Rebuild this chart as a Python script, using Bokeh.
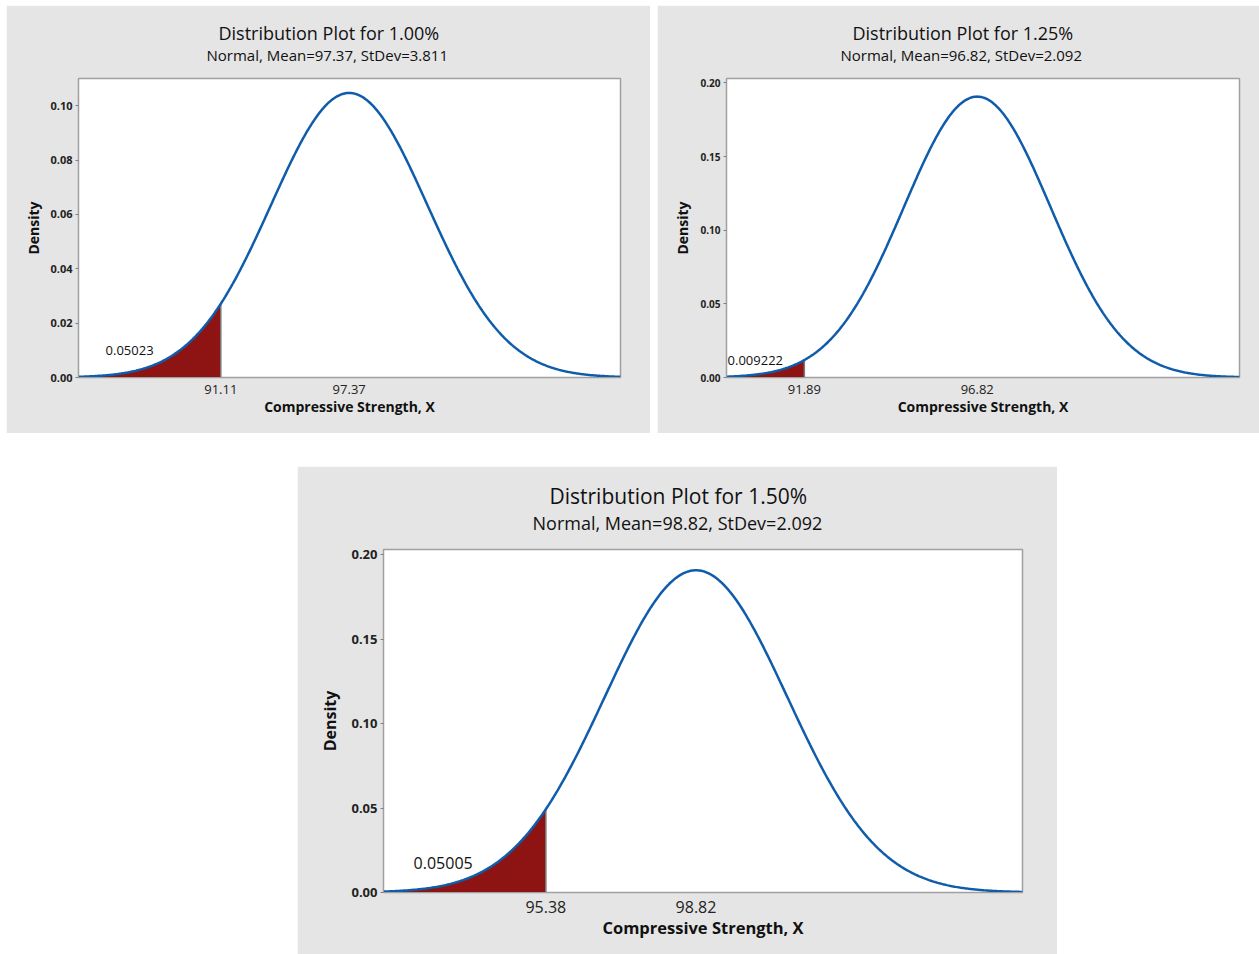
import numpy as np
from bokeh.plotting import figure
from bokeh.models import (Range1d, FixedTicker, PrintfTickFormatter, Title, Label, Spacer)
from bokeh.layouts import column, row
from bokeh.embed import file_html
from bokeh.resources import INLINE

# ---- data ----
titles = ["Distribution Plot for 1.00%", "Distribution Plot for 1.25%", "Distribution Plot for 1.50%"]
means = [97.37, 96.82, 98.82]
sds = [3.811, 2.092, 2.092]
cutoffs = [91.11, 91.89, 95.38]
tail_areas = ["0.05023", "0.009222", "0.05005"]
x_lo = [84.17, 89.67, 91.66]
x_hi = [110.6, 104.3, 106.3]
y_top = [0.11, 0.203, 0.203]
y_ticks = [[0.0, 0.02, 0.04, 0.06, 0.08, 0.10],
           [0.0, 0.05, 0.10, 0.15, 0.20],
           [0.0, 0.05, 0.10, 0.15, 0.20]]
label_pos = [(85.49, 0.0099), (89.70, 0.0115), (92.35, 0.01775)]

FONT = "Open Sans"
BG = "#e5e5e5"
BLUE = "#0f5cab"
RED = "#8e1414"

styles = [
    dict(w=644, h=428, l=72, r=30, t=73, b=56, ts=18, ss=15, yt=11, xt=13, al=14, yl=14,
         an=13, toff=140, soff=128, yls=4, sst=27, mst=-31, xls=7, xas=0),
    dict(w=602, h=428, l=69, r=20, t=73, b=56, ts=18, ss=15, yt=10, xt=13, al=14, yl=14,
         an=13, toff=126, soff=114, yls=5, sst=27, mst=-31, xls=7, xas=0),
    dict(w=760, h=488, l=86, r=35, t=83, b=62, ts=21, ss=18, yt=13, xt=16, al=16.5, yl=16,
         an=16, toff=166, soff=149, yls=7, sst=29, mst=-31, xls=8, xas=0),
]


def pdf(x, m, s):
    return np.exp(-0.5 * ((x - m) / s) ** 2) / (s * np.sqrt(2 * np.pi))


def make_panel(i):
    st = styles[i]
    m, s, c = means[i], sds[i], cutoffs[i]
    p = figure(width=st["w"], height=st["h"], output_backend="svg", toolbar_location=None,
               x_range=Range1d(x_lo[i], x_hi[i]), y_range=Range1d(0, y_top[i]),
               min_border_left=st["l"], min_border_right=st["r"],
               min_border_top=st["t"], min_border_bottom=st["b"])
    p.border_fill_color = BG
    p.background_fill_color = "white"
    p.outline_line_color = "#a0a0a0"
    p.outline_line_width = 1.5
    p.grid.visible = False

    sub = Title(text="Normal, Mean=%.2f, StDev=%.3f" % (m, s), text_font=FONT,
                text_font_size="%spx" % st["ss"], text_font_style="normal", align="left",
                offset=st["soff"], text_color="#111111", standoff=st["sst"])
    main = Title(text=titles[i], text_font=FONT, text_font_size="%spx" % st["ts"],
                 text_font_style="normal", align="left", offset=st["toff"],
                 text_color="#111111", standoff=st["mst"])
    p.add_layout(sub, "above")
    p.add_layout(main, "above")

    xs = np.linspace(x_lo[i], x_hi[i], 500)
    ys = pdf(xs, m, s)
    xt = np.linspace(x_lo[i], c, 200)
    yt = pdf(xt, m, s)
    p.varea(x=xt, y1=np.zeros_like(xt), y2=yt, fill_color=RED)
    p.segment(x0=[c], y0=[0], x1=[c], y1=[pdf(c, m, s)], line_color="#7a7a7a", line_width=1.5)
    p.line(xs, ys, line_color=BLUE, line_width=2.5)

    lx, ly = label_pos[i]
    p.add_layout(Label(x=lx, y=ly, text=tail_areas[i], text_font=FONT,
                       text_font_size="%spx" % st["an"], text_baseline="middle",
                       text_align="left", text_color="#111111"))

    xa = p.xaxis[0]
    xa.ticker = FixedTicker(ticks=[c, m])
    xa.major_label_overrides = {c: "%.2f" % c, m: "%.2f" % m}
    xa.major_tick_out = 0
    xa.major_tick_in = 0
    xa.minor_tick_out = 0
    xa.minor_tick_in = 0
    xa.axis_line_color = "#a0a0a0"
    xa.major_label_text_font = FONT
    xa.major_label_text_font_size = "%spx" % st["xt"]
    xa.major_label_text_color = "#222222"
    xa.major_label_standoff = st["xls"]
    xa.axis_label = "Compressive Strength, X"
    xa.axis_label_text_font = FONT
    xa.axis_label_text_font_size = "%spx" % st["al"]
    xa.axis_label_text_font_style = "bold"
    xa.axis_label_text_color = "#111111"
    xa.axis_label_standoff = st["xas"]

    ya = p.yaxis[0]
    ya.ticker = FixedTicker(ticks=y_ticks[i])
    ya.formatter = PrintfTickFormatter(format="%.2f")
    ya.major_tick_out = 3
    ya.major_tick_in = 0
    ya.minor_tick_out = 0
    ya.minor_tick_in = 0
    ya.major_tick_line_color = "#808080"
    ya.axis_line_color = "#a0a0a0"
    ya.major_label_text_font = FONT
    ya.major_label_text_font_size = "%spx" % st["yt"]
    ya.major_label_text_font_style = "bold"
    ya.major_label_text_color = "#222222"
    ya.major_label_standoff = 3
    ya.axis_label = "Density"
    ya.axis_label_text_font = FONT
    ya.axis_label_text_font_size = "%spx" % st["yl"]
    ya.axis_label_text_font_style = "bold"
    ya.axis_label_text_color = "#111111"
    ya.axis_label_standoff = st["yls"]
    return p


p1, p2, p3 = make_panel(0), make_panel(1), make_panel(2)

layout = column(
    Spacer(height=5),
    row(Spacer(width=6), p1, Spacer(width=7), p2),
    Spacer(height=33),
    row(Spacer(width=297), p3),
)

open("out.html", "w").write(file_html(layout, INLINE))
